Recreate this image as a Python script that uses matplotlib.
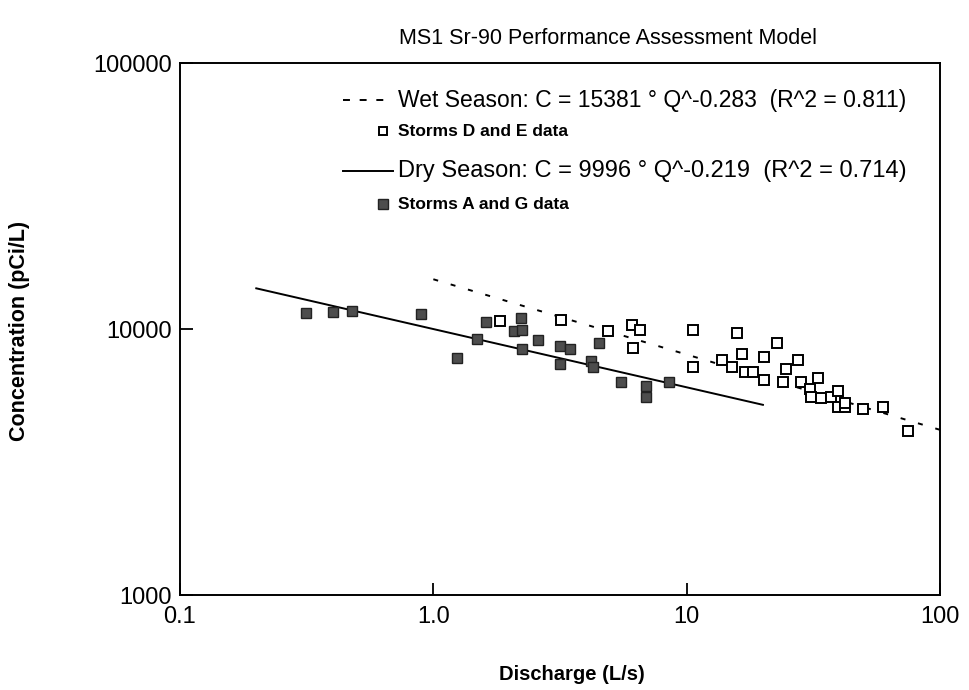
import numpy as np
import matplotlib
matplotlib.use("Agg")
import matplotlib.pyplot as plt
from matplotlib.lines import Line2D
from matplotlib.ticker import FixedLocator, FixedFormatter, NullLocator

plt.rcParams['font.family'] = ['Liberation Sans', 'DejaVu Sans']
plt.rcParams['lines.scale_dashes'] = False

# ---- data ----
dry_q = [0.313, 0.403, 0.478, 0.898, 1.236, 1.487, 1.612, 2.08, 2.246, 2.226, 2.246,
         2.60, 3.16, 3.45, 3.16, 4.52, 4.19, 4.26, 5.49, 6.91, 6.91, 8.53]
dry_c = [11460, 11560, 11660, 11390, 7760, 9170, 10600, 9830, 9940, 11000, 8390,
         9090, 8610, 8410, 7400, 8840, 7600, 7180, 6300, 6090, 5570, 6300]

wet_q = [1.834, 3.20, 4.87, 6.09, 6.56, 6.15, 10.6, 15.75, 22.7, 10.6, 13.77, 15.14,
         16.56, 20.24, 27.5, 24.65, 16.97, 18.28, 20.24, 23.9, 28.35, 32.9, 30.6,
         31.0, 33.9, 37.1, 39.4, 39.4, 42.2, 42.2, 49.6, 59.3, 74.9]
wet_c = [10740, 10840, 9850, 10350, 9910, 8460, 9910, 9630, 8860, 7216, 7646, 7216,
         8054, 7868, 7646, 7073, 6875, 6875, 6449, 6339, 6339, 6545, 5948,
         5536, 5503, 5536, 5864, 5077, 5077, 5269, 5003, 5077, 4147]

wet_coef, wet_exp = 15381, -0.283
dry_coef, dry_exp = 9996, -0.219
wet_range = [1.0, 100.0]
dry_range = [0.2, 20.0]

x_ticks = [0.1, 1.0, 10, 100]
x_tick_labels = ["0.1", "1.0", "10", "100"]
y_ticks = [1000, 10000, 100000]
y_tick_labels = ["1000", "10000", "100000"]

title = "MS1 Sr-90 Performance Assessment Model"
xlabel = "Discharge (L/s)"
ylabel = "Concentration (pCi/L)"
wet_label = "Wet Season: C = 15381 \u00b0 Q^-0.283  (R^2 = 0.811)"
wet_data_label = "Storms D and E data"
dry_label = "Dry Season: C = 9996 \u00b0 Q^-0.219  (R^2 = 0.714)"
dry_data_label = "Storms A and G data"

# ---- figure ----
W, H = 969, 690
fig = plt.figure(figsize=(W / 100, H / 100), dpi=100)
L, R, T, B = 180, 940, 63, 595
ax = fig.add_axes([L / W, 1 - B / H, (R - L) / W, (B - T) / H])
ax.set_xscale('log')
ax.set_yscale('log')
ax.set_xlim(0.1, 100)
ax.set_ylim(1000, 100000)

qd = np.geomspace(dry_range[0], dry_range[1], 100)
ax.plot(qd, dry_coef * qd ** dry_exp, color='black', lw=1.4)
qw = np.geomspace(wet_range[0], wet_range[1], 100)
ax.plot(qw, wet_coef * qw ** wet_exp, color='black', lw=1.4, dashes=(3.6, 9.4))

ax.plot(dry_q, dry_c, 's', ms=7.5, mfc='#4d4d4d', mec='#222222', mew=1.0, ls='none')
ax.plot(wet_q, wet_c, 's', ms=7.0, mfc='white', mec='black', mew=1.4, ls='none')

for s in ax.spines.values():
    s.set_linewidth(1.4)

ax.xaxis.set_major_locator(FixedLocator(x_ticks))
ax.xaxis.set_major_formatter(FixedFormatter(x_tick_labels))
ax.yaxis.set_major_locator(FixedLocator(y_ticks))
ax.yaxis.set_major_formatter(FixedFormatter(y_tick_labels))
ax.xaxis.set_minor_locator(NullLocator())
ax.yaxis.set_minor_locator(NullLocator())
ax.tick_params(axis='both', which='major', direction='in', length=9, width=1.3,
               labelsize=17)
ax.tick_params(axis='x', pad=8)
ax.tick_params(axis='y', pad=6)

fig.text(608 / W, 1 - 38 / H, title, ha='center', va='center', fontsize=15.5)
fig.text(572 / W, 1 - 675 / H, xlabel, ha='center', va='center', fontsize=14.5,
         fontweight='bold')
fig.text(20 / W, 1 - 331 / H, ylabel, ha='center', va='center', fontsize=15.5,
         fontweight='bold', rotation=90)

# ---- legend (custom) ----
def fx(px):
    return px / W

def fy(py):
    return 1 - py / H

fig.add_artist(Line2D([fx(343), fx(392)], [fy(100), fy(100)], color='black', lw=1.4,
                      dashes=(5, 7)))
fig.text(fx(398), fy(100), wet_label, ha='left', va='center', fontsize=16.5)
fig.add_artist(Line2D([fx(383)], [fy(131)], marker='s', ms=6, mfc='white', mec='black',
                      mew=1.4, ls='none'))
fig.text(fx(398), fy(131), wet_data_label, ha='left', va='center', fontsize=12.5,
         fontweight='bold')
fig.add_artist(Line2D([fx(343), fx(393)], [fy(171), fy(171)], color='black', lw=1.4))
fig.text(fx(398), fy(171), dry_label, ha='left', va='center', fontsize=17)
fig.add_artist(Line2D([fx(383)], [fy(204)], marker='s', ms=6.5, mfc='#4d4d4d',
                      mec='#222222', mew=1.0, ls='none'))
fig.text(fx(398), fy(204), dry_data_label, ha='left', va='center', fontsize=12.5,
         fontweight='bold')

fig.savefig("out.png", dpi=100)
